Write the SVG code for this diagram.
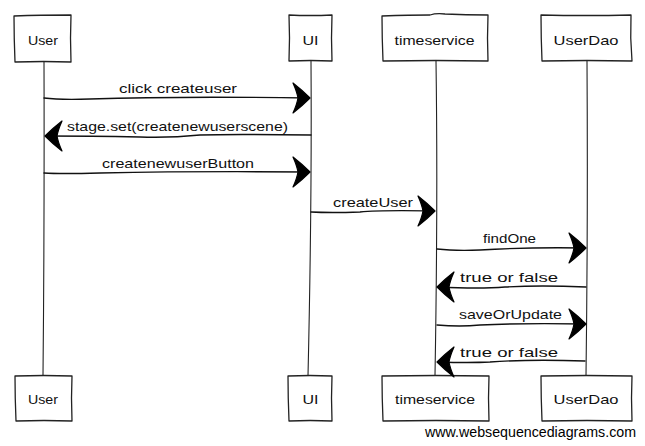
<svg xmlns="http://www.w3.org/2000/svg" xmlns:xlink="http://www.w3.org/1999/xlink" width="645" height="446" viewBox="0 0 645 446">
<style>
  .box{fill:#fff;stroke:#222;stroke-width:1.3;stroke-linejoin:round}
  .life{fill:none;stroke:#222;stroke-width:1.1}
  .msg{fill:none;stroke:#111;stroke-width:1.4;stroke-linecap:round}
  .lbl{font-family:"Liberation Sans","DejaVu Sans",sans-serif;font-size:13px;fill:#111;text-anchor:middle}
  .wm{font-family:"Liberation Sans",Arial,sans-serif;font-size:14px;fill:#000}
</style>
<defs>
  <path id="ah" d="M0,0 Q-8,-8 -17,-15 Q-13,-6 -12,0 Q-13,6 -17,15 Q-8,8 0,0 Z" fill="#000" stroke="#000" stroke-width="1.2" stroke-linejoin="round"/>
</defs>
<rect width="645" height="446" fill="#fff"/>
<g id="lifelines">
  <path class="life" d="M44,61 Q44.5,220 43,376"/>
  <path class="life" d="M311,61 Q312,200 308,376"/>
  <path class="life" d="M436,61 Q438,200 435,376"/>
  <path class="life" d="M587,61 Q588,220 586,376"/>
</g>
<g id="p-user-top">
  <path class="box" d="M14,16 Q40,15 71,15 Q70,38 71,62 Q44,61 15,62 Q14,38 14,16 Z"/>
  <text class="lbl" x="43" y="45" textLength="30" lengthAdjust="spacingAndGlyphs">User</text>
</g>
<g id="p-ui-top">
  <path class="box" d="M289,15 Q310,16 332,15 Q331,38 332,61 Q311,60 289,61 Q290,38 289,15 Z"/>
  <text class="lbl" x="310.5" y="45" textLength="16" lengthAdjust="spacingAndGlyphs">UI</text>
</g>
<g id="p-ts-top">
  <path class="box" d="M382,16 Q410,15 430,15 Q436,13 445,14 Q466,15 488,15 Q487,38 488,61 Q436,60 383,61 Q382,38 382,16 Z"/>
  <text class="lbl" x="434.5" y="45" textLength="80" lengthAdjust="spacingAndGlyphs">timeservice</text>
</g>
<g id="p-dao-top">
  <path class="box" d="M541,15 Q586,16 631,15 Q630,38 632,61 Q587,60 542,61 Q541,38 541,15 Z"/>
  <text class="lbl" x="586" y="45" textLength="65" lengthAdjust="spacingAndGlyphs">UserDao</text>
</g>
<g id="p-user-bot">
  <path class="box" d="M15,376 Q44,375 72,376 Q71,398 72,421 Q44,420 16,421 Q15,398 15,376 Z"/>
  <text class="lbl" x="43" y="404" textLength="30" lengthAdjust="spacingAndGlyphs">User</text>
</g>
<g id="p-ui-bot">
  <path class="box" d="M288,376 Q310,375 332,376 Q331,398 332,421 Q310,420 289,421 Q288,398 288,376 Z"/>
  <text class="lbl" x="310.5" y="404" textLength="16" lengthAdjust="spacingAndGlyphs">UI</text>
</g>
<g id="p-ts-bot">
  <path class="box" d="M382,376 Q436,375 489,376 Q488,398 489,421 Q436,420 383,421 Q382,398 382,376 Z"/>
  <text class="lbl" x="435" y="404" textLength="80" lengthAdjust="spacingAndGlyphs">timeservice</text>
</g>
<g id="p-dao-bot">
  <path class="box" d="M541,376 Q587,375 632,376 Q631,398 632,421 Q587,420 542,421 Q541,398 541,376 Z"/>
  <text class="lbl" x="586" y="404" textLength="65" lengthAdjust="spacingAndGlyphs">UserDao</text>
</g>
<g id="messages">
  <path class="msg" d="M44,98 Q60,100 90,99 Q180,96 309,98"/>
  <use xlink:href="#ah" href="#ah" transform="translate(310,98)"/>
  <text class="lbl" x="178" y="93" textLength="118" lengthAdjust="spacingAndGlyphs">click createuser</text>

  <path class="msg" d="M311,135 Q230,134 200,135 Q170,138 140,137 Q90,136 46,136"/>
  <use xlink:href="#ah" href="#ah" transform="translate(45,136) scale(-1,1)"/>
  <text class="lbl" x="177.5" y="131" textLength="221" lengthAdjust="spacingAndGlyphs">stage.set(createnewuserscene)</text>

  <path class="msg" d="M44,173 Q60,174 100,173 Q200,171 309,172"/>
  <use xlink:href="#ah" href="#ah" transform="translate(310,172)"/>
  <text class="lbl" x="178" y="168" textLength="152" lengthAdjust="spacingAndGlyphs">createnewuserButton</text>

  <path class="msg" d="M311,212 Q330,213 360,212 Q380,210 434,211"/>
  <use xlink:href="#ah" href="#ah" transform="translate(435,211)"/>
  <text class="lbl" x="373" y="207" textLength="80" lengthAdjust="spacingAndGlyphs">createUser</text>

  <path class="msg" d="M437,249 Q455,251 480,250 Q530,247 585,248"/>
  <use xlink:href="#ah" href="#ah" transform="translate(586,248)"/>
  <text class="lbl" x="509.5" y="243" textLength="53" lengthAdjust="spacingAndGlyphs">findOne</text>

  <path class="msg" d="M586,287 Q540,285 505,287 Q480,289 438,287"/>
  <use xlink:href="#ah" href="#ah" transform="translate(437,287) scale(-1,1)"/>
  <text class="lbl" x="509" y="282" textLength="98" lengthAdjust="spacingAndGlyphs">true or false</text>

  <path class="msg" d="M437,325 Q460,327 480,325 Q520,323 585,324"/>
  <use xlink:href="#ah" href="#ah" transform="translate(586,324)"/>
  <text class="lbl" x="510.5" y="319" textLength="103" lengthAdjust="spacingAndGlyphs">saveOrUpdate</text>

  <path class="msg" d="M585,361 Q530,359 490,362 Q470,363 438,362"/>
  <use xlink:href="#ah" href="#ah" transform="translate(437,362) scale(-1,1)"/>
  <text class="lbl" x="509" y="357" textLength="98" lengthAdjust="spacingAndGlyphs">true or false</text>
</g>
<text class="wm" x="425" y="437" textLength="211" lengthAdjust="spacingAndGlyphs">www.websequencediagrams.com</text>
</svg>
